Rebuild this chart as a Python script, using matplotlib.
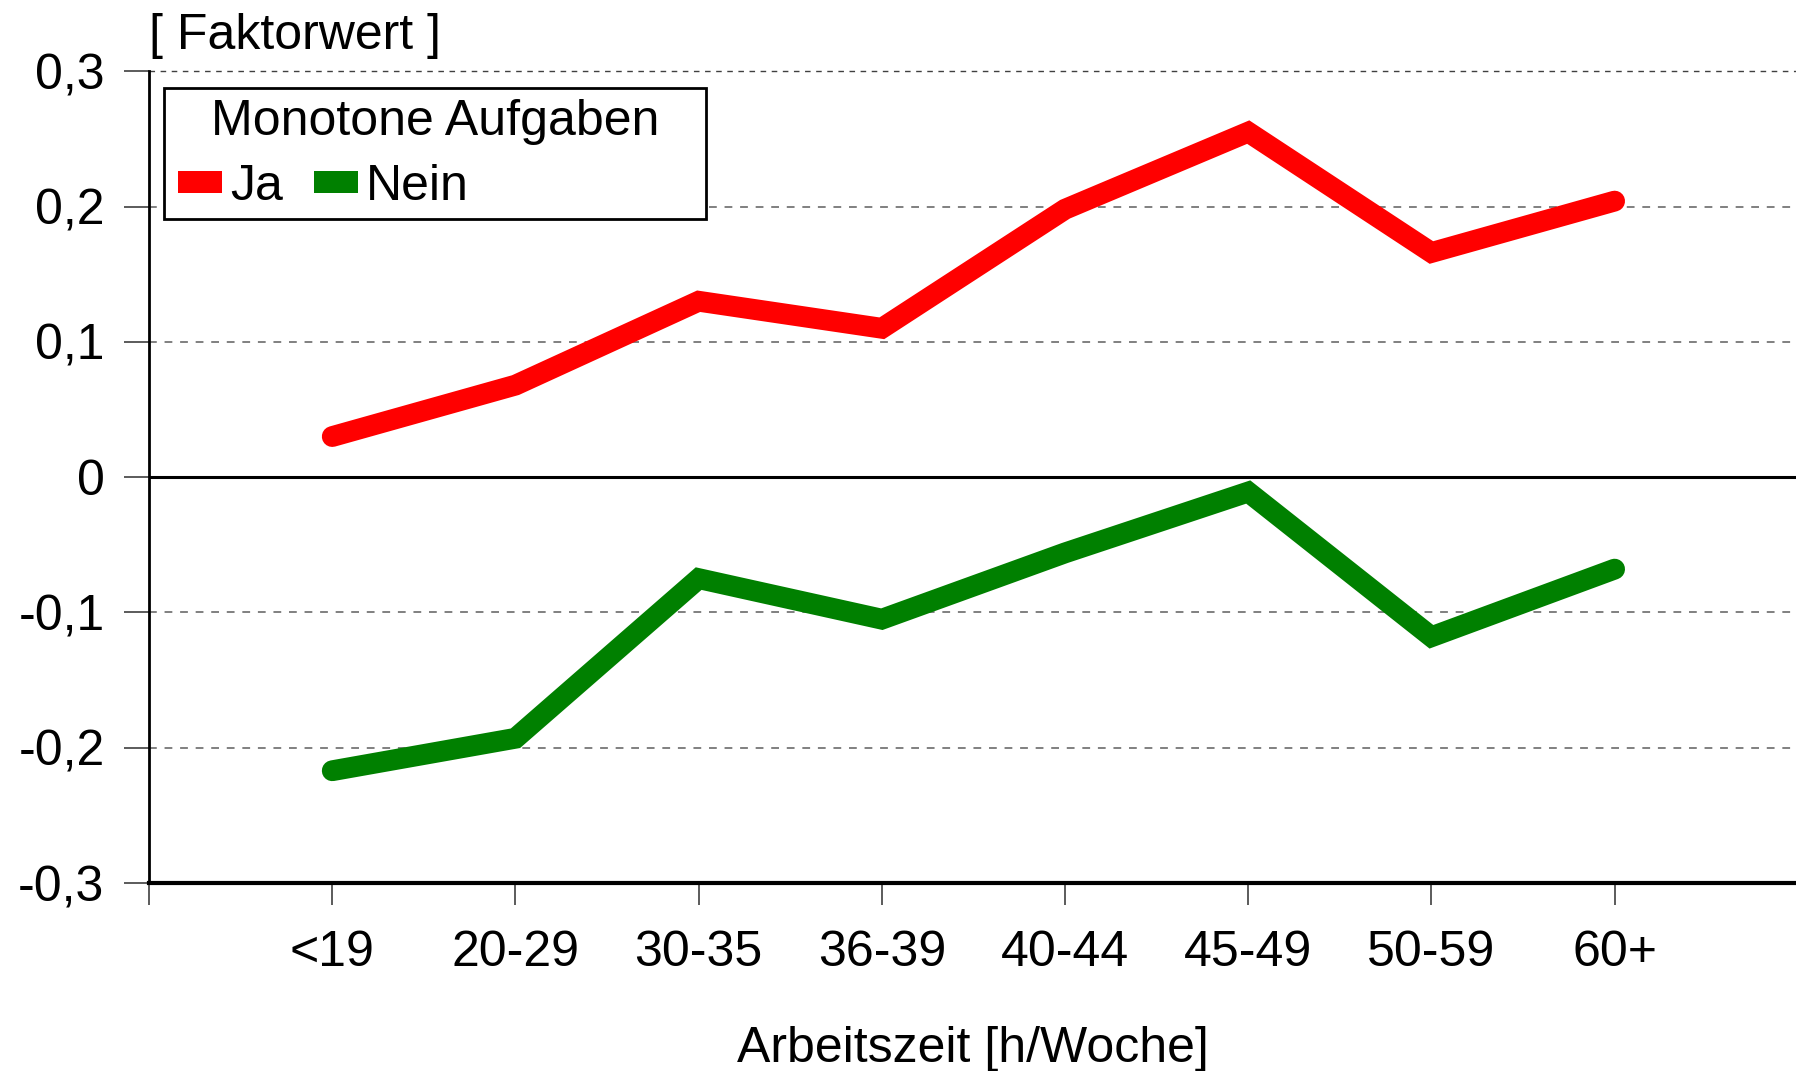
import matplotlib
matplotlib.use("Agg")
import matplotlib.pyplot as plt
from matplotlib.patches import Patch, Rectangle

plt.rcParams['font.family'] = ['Liberation Sans Narrow', 'Liberation Sans', 'DejaVu Sans']

categories = ["<19", "20-29", "30-35", "36-39", "40-44", "45-49", "50-59", "60+"]
ja = [0.030, 0.068, 0.130, 0.110, 0.198, 0.255, 0.166, 0.204]
nein = [-0.217, -0.193, -0.075, -0.105, -0.056, -0.011, -0.118, -0.068]
yticks = [-0.3, -0.2, -0.1, 0.0, 0.1, 0.2, 0.3]
ytick_labels = ["-0,3", "-0,2", "-0,1", "0", "0,1", "0,2", "0,3"]

W, H = 1796, 1071
fig = plt.figure(figsize=(W / 100, H / 100), dpi=100)
ax = fig.add_axes([0.083, 0.1755, 0.918, 0.758])

x = list(range(len(categories)))
ax.set_xlim(-1, 8)
ax.set_ylim(-0.3, 0.3)

for yv in [-0.2, -0.1, 0.1, 0.2]:
    ax.axhline(yv, color='#808080', lw=1.4, ls=(0, (4, 4)), zorder=1)
ax.axhline(0.3, color='#404040', lw=1.0, ls=(0, (4, 4)), zorder=1, clip_on=False)
ax.axhline(0.0, color='black', lw=2.2, zorder=2)

ax.plot(x, ja, color='#ff0000', lw=15, solid_capstyle='round', solid_joinstyle='miter', zorder=3)
ax.plot(x, nein, color='#008000', lw=15, solid_capstyle='round', solid_joinstyle='miter', zorder=3)

for s in ['top', 'right']:
    ax.spines[s].set_visible(False)
ax.spines['left'].set_linewidth(2)
ax.spines['bottom'].set_linewidth(3)

ax.set_yticks(yticks)
ax.set_yticklabels(ytick_labels)
ax.set_xticks([-1] + x)
ax.set_xticklabels([""] + categories)
ax.tick_params(axis='y', length=18, width=1.2, color='#404040', pad=14, labelsize=36)
ax.tick_params(axis='x', length=16, width=1.2, color='#404040', pad=18, labelsize=36)

ax.set_xlabel("Arbeitszeit [h/Woche]", fontsize=36, labelpad=36)

fig.text(149 / W, 1 - 36 / H, "[ Faktorwert ]", fontsize=36, ha='left', va='center')

# legend frame, title and entries
fig.patches.append(Rectangle((164 / W, 1 - 219 / H), (706 - 164) / W, (219 - 88) / H,
                             transform=fig.transFigure, facecolor='white',
                             edgecolor='black', linewidth=2, zorder=5))
fig.text(435 / W, 1 - 122 / H, "Monotone Aufgaben", fontsize=36, ha='center', va='center', zorder=6)
handles = [Patch(facecolor='#ff0000', edgecolor='none', label='Ja'),
           Patch(facecolor='#008000', edgecolor='none', label='Nein')]
leg = fig.legend(handles=handles, ncol=2, loc='center left',
                 bbox_to_anchor=(178 / W, 1 - 187 / H),
                 fontsize=36, frameon=False, borderaxespad=0, borderpad=0,
                 handlelength=0.88, handleheight=0.32, handletextpad=0.16,
                 columnspacing=0.62)
leg.set_zorder(6)

fig.savefig("out.png", dpi=100)
